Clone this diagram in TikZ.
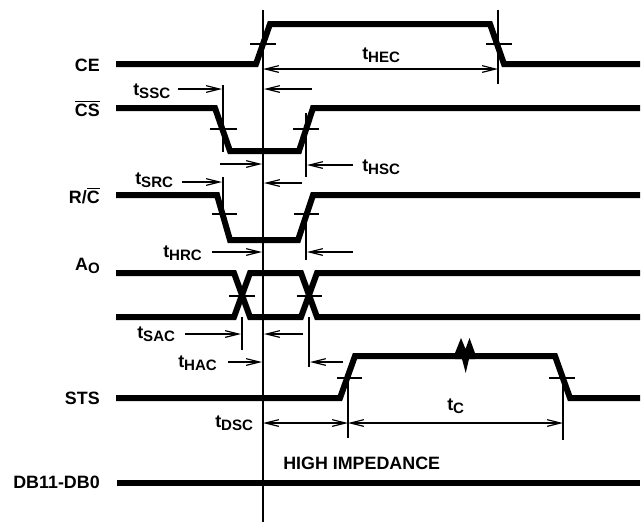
\documentclass[tikz,border=0pt]{standalone}
\usepackage{fontspec}
\setmainfont{Liberation Sans}
\usetikzlibrary{arrows.meta}

\newcommand{\tsub}[1]{t\raisebox{-2.5pt}{\fontsize{11.3}{13}\selectfont #1}}
\newcommand{\ovl}[1]{$\overline{\hbox{#1}}$}

\tikzset{
  sig/.style={line width=4.5pt},
  guide/.style={line width=0.9pt},
  dim/.style={line width=0.9pt,-{Straight Barb[length=10pt,width=5pt]}},
  dimboth/.style={line width=0.9pt,{Straight Barb[length=10pt,width=5pt]}-{Straight Barb[length=10pt,width=5pt]}},
  lbl/.style={inner sep=0pt,font=\fontsize{13.4}{15}\selectfont\bfseries}
}

\begin{document}
\begin{tikzpicture}[x=0.75pt,y=-0.75pt]

\useasboundingbox (0,0) rectangle (642,525);

% reference line
\coordinate (reftop) at (263,10);
\coordinate (refbot) at (263,522);
\draw[guide] (reftop)--(refbot);

% signal names
\node[lbl,anchor=base east] (ce) at (100,71){CE};
\node[lbl,anchor=base east] (cs) at (100,116){\ovl{CS}};
\node[lbl,anchor=base east] (rc) at (100,203){R/\ovl{C}};
\node[lbl,anchor=base east] (ao) at (100,270){A\raisebox{-2.5pt}{\fontsize{11.3}{13}\selectfont O}};
\node[lbl,anchor=base east] (sts) at (100,404){STS};
\node[lbl,anchor=base east] (db) at (100,488){DB11-DB0};

% CE
\draw[sig] (116,64)--(256,64)--(270,24)--(490,24)--(504,64)--(640,64);
\draw[guide] (250,44)--(276,44);
\draw[guide] (486,44)--(512,44);
\draw[guide] (498,10)--(498,84);
\draw[dimboth] (263,69)--(498,69);
\node[lbl,anchor=base west] (thec) at (362,59){\tsub{HEC}};

% CS
\draw[sig] (116,108)--(215,108)--(230,151)--(299,151)--(313,108)--(640,108);
\draw[guide] (210,129)--(237,129);
\draw[guide] (293,129)--(319,129);
\draw[guide] (223,85)--(223,152);
\draw[guide] (306,113)--(306,177);
\node[lbl,anchor=base west] (tssc) at (133,95.5){\tsub{SSC}};
\draw[dim] (178,89)--(222,89);
\draw[dim] (312,89)--(264,89);
\draw[dim] (220,164)--(262,164);
\draw[dim] (353,165)--(307,165);
\node[lbl,anchor=base west] (thsc) at (362,171){\tsub{HSC}};

% R/C
\draw[sig] (116,195)--(217,195)--(230,240)--(298,240)--(313,195)--(640,195);
\draw[guide] (212,214)--(237,214);
\draw[guide] (294,214)--(319,214);
\draw[guide] (223,177)--(223,214);
\draw[guide] (306,213)--(306,260);
\node[lbl,anchor=base west] (tsrc) at (135,184){\tsub{SRC}};
\draw[dim] (182,182)--(222,182);
\draw[dim] (302,183)--(264,183);
\node[lbl,anchor=base west] (thrc) at (163,257){\tsub{HRC}};
\draw[dim] (212,252)--(262,252);
\draw[dim] (353,252)--(307,252);

% AO
\draw[sig] (116,273)--(234,273)--(250,317)--(301,317)--(317,273)--(640,273);
\draw[sig] (116,317)--(234,317)--(250,273)--(301,273)--(317,317)--(640,317);
\draw[guide] (229,296)--(255,296);
\draw[guide] (297,296)--(322,296);
\draw[guide] (242,317)--(242,350);
\draw[guide] (309,317)--(309,367);
\node[lbl,anchor=base west] (tsac) at (137,338){\tsub{SAC}};
\draw[dim] (185,334)--(241,334);
\draw[dim] (303,334)--(264,334);
\node[lbl,anchor=base west] (thac) at (178,367){\tsub{HAC}};
\draw[dim] (228,362)--(262,362);
\draw[dim] (343,362)--(310,362);

% STS
\draw[sig] (116,398)--(340,398)--(355,356)--(555,356)--(570,398)--(640,398);
\fill (455,353)--(461,338)--(465.5,349)--(469.5,338)--(475,353)--(475,359)--(469,359)--(465.7,373)--(462,359)--(455,359)--cycle;
\draw[guide] (337,378)--(362,378);
\draw[guide] (549,378)--(575,378);
\draw[guide] (348,380)--(348,438);
\draw[guide] (563,380)--(563,440);
\node[lbl,anchor=base west] (tdsc) at (215,427.5){\tsub{DSC}};
\draw[dimboth] (263,423)--(348,423);
\draw[dimboth] (348,423)--(563,423);
\node[lbl,anchor=base west] (tc) at (447,410){\tsub{C}};

% DB11-DB0
\node[lbl,anchor=base west] (hiz) at (283,469){HIGH IMPEDANCE};
\draw[sig] (117,483)--(640,483);

\end{tikzpicture}
\end{document}
